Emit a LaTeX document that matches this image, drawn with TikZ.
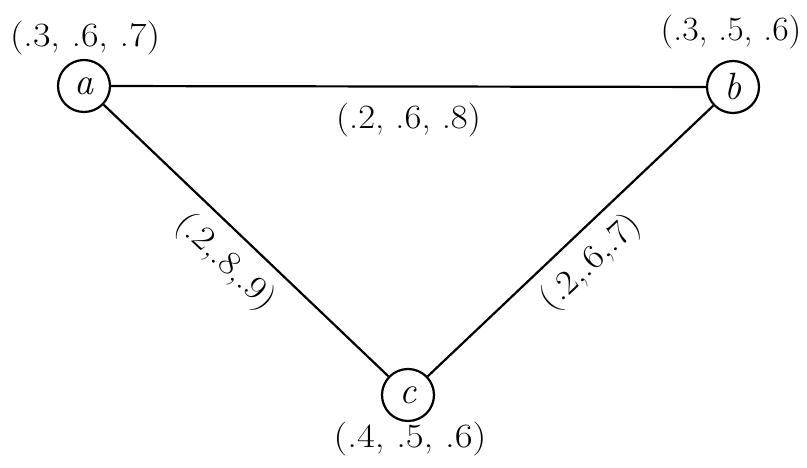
\documentclass[tikz,border=0pt]{standalone}
\usepackage{fontspec}
\usepackage{graphicx}
\begin{document}
\begin{tikzpicture}[x=1pt,y=1pt,
  vert/.style={draw,circle,line width=2.2pt,minimum size=52pt,inner sep=0pt,font=\fontsize{38}{40}\selectfont\itshape},
  lbl/.style={font=\fontsize{34}{36}\selectfont,inner sep=0pt},
  edge/.style={line width=2.2pt}]
\useasboundingbox (0,0) rectangle (807,468);
\node[vert] (a) at (84,382) {a};
\node[vert] (b) at (733,381) {b};
\node[vert] (c) at (408,73) {c};
\node[lbl] (la) at (85,430) {\scalebox{1.12}[1]{(.3, .6, .7)}};
\node[lbl] (lb) at (731,436) {\scalebox{1.05}[1]{(.3, .5, .6)}};
\node[lbl] (lc) at (410,29) {\scalebox{1.14}[1]{(.4, .5, .6)}};
\draw[edge] (a) -- node[lbl,below=15pt,pos=0.5] (lab) {\scalebox{1.08}[1]{(.2, .6, .8)}} (b);
\draw[edge] (a) -- node[lbl,sloped,below=12pt,pos=0.5] (lac) {\scalebox{1.1}[1]{(.2,.8,.9)}} (c);
\draw[edge] (c) -- node[lbl,sloped,below=12pt,pos=0.5] (lbc) {\scalebox{1.1}[1]{(.2,.6,.7)}} (b);
\end{tikzpicture}
\end{document}
